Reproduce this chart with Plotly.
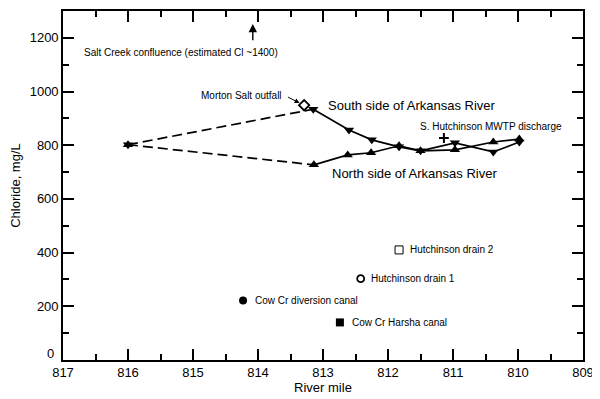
import plotly.graph_objects as go

# River mile / chloride data
south_mile = [816.0, 813.15, 812.6, 812.25, 811.83, 811.5, 810.97, 810.38, 809.98]
south_cl = [802, 934, 857, 820, 794, 779, 809, 775, 812]
north_mile = [816.0, 813.14, 812.62, 812.26, 811.83, 811.5, 810.97, 810.38, 809.98]
north_cl = [802, 727, 764, 772, 798, 779, 783, 812, 823]

morton_mile = [813.29]
morton_cl = [949]
mwtp_mile = [811.14]
mwtp_cl = [827]

drain2_mile = [811.83]
drain2_cl = [410]
drain1_mile = [812.42]
drain1_cl = [303]
diversion_mile = [814.23]
diversion_cl = [222]
harsha_mile = [812.74]
harsha_cl = [140]

salt_creek_mile = 814.08

y_ticks = [200, 400, 600, 800, 1000, 1200]

FONT = "Liberation Sans, Arial, sans-serif"

fig = go.Figure()

line_solid = dict(color="black", width=1.7)
line_dash = dict(color="black", width=1.7, dash="10px,5px")

# dashed links
fig.add_trace(go.Scatter(x=south_mile[:2], y=south_cl[:2], mode="lines", line=line_dash, showlegend=False))
fig.add_trace(go.Scatter(x=north_mile[:2], y=north_cl[:2], mode="lines", line=line_dash, showlegend=False))
# solid parts
fig.add_trace(go.Scatter(x=south_mile[1:], y=south_cl[1:], mode="lines", line=line_solid, showlegend=False))
fig.add_trace(go.Scatter(x=north_mile[1:], y=north_cl[1:], mode="lines", line=line_solid, showlegend=False))
# markers
fig.add_trace(go.Scatter(x=south_mile, y=south_cl, mode="markers",
                         marker=dict(symbol="triangle-down", size=9, color="black"), showlegend=False))
fig.add_trace(go.Scatter(x=north_mile, y=north_cl, mode="markers",
                         marker=dict(symbol="triangle-up", size=9, color="black"), showlegend=False))

fig.add_trace(go.Scatter(x=morton_mile, y=morton_cl, mode="markers",
                         marker=dict(symbol="diamond-open", size=8, color="black", line=dict(width=1.8)),
                         showlegend=False))
fig.add_trace(go.Scatter(x=mwtp_mile, y=mwtp_cl, mode="markers",
                         marker=dict(symbol="cross-thin", size=7, color="black", line=dict(width=2, color="black")),
                         showlegend=False))
fig.add_trace(go.Scatter(x=drain2_mile, y=drain2_cl, mode="markers",
                         marker=dict(symbol="square-open", size=8, color="black", line=dict(width=1)),
                         showlegend=False))
fig.add_trace(go.Scatter(x=drain1_mile, y=drain1_cl, mode="markers",
                         marker=dict(symbol="circle-open", size=7, color="black", line=dict(width=1.8)),
                         showlegend=False))
fig.add_trace(go.Scatter(x=diversion_mile, y=diversion_cl, mode="markers",
                         marker=dict(symbol="circle", size=8, color="black"), showlegend=False))
fig.add_trace(go.Scatter(x=harsha_mile, y=harsha_cl, mode="markers",
                         marker=dict(symbol="square", size=8, color="black"), showlegend=False))

ann = []
def label(x, y, text, size=10, xanchor="left"):
    ann.append(dict(x=x, y=y, xref="x", yref="y", text=text, showarrow=False,
                    xanchor=xanchor, yanchor="middle", font=dict(size=size, color="black", family=FONT)))

label(812.95, 949, "South side of Arkansas River", size=13)
label(812.89, 694, "North side of Arkansas River", size=13)
label(811.54, 871, "S. Hutchinson MWTP discharge")
label(811.70, 410, "Hutchinson drain 2")
label(812.30, 303, "Hutchinson drain 1")
label(814.08, 222, "Cow Cr diversion canal")
label(812.58, 140, "Cow Cr Harsha canal")
label(815.18, 1146, "Salt Creek confluence (estimated Cl ~1400)", xanchor="center")
label(813.60, 985, "Morton Salt outfall", xanchor="right")

# "0" y tick label, nudged up as in the reference
ann.append(dict(x=0, y=0, xref="paper", yref="y", text="0", showarrow=False, xanchor="right",
                yanchor="middle", xshift=-7, yshift=7, font=dict(size=13, color="black", family=FONT)))

# arrows
ann.append(dict(x=salt_creek_mile, y=1252, ax=salt_creek_mile, ay=1185, xref="x", yref="y",
                axref="x", ayref="y", text="", showarrow=True, arrowhead=2, arrowsize=1.2,
                arrowwidth=1.4, arrowcolor="black"))
ann.append(dict(x=813.36, y=957, ax=813.56, ay=982, xref="x", yref="y",
                axref="x", ayref="y", text="", showarrow=True, arrowhead=2, arrowsize=1,
                arrowwidth=1, arrowcolor="black"))

axis_common = dict(showgrid=False, zeroline=False, showline=True, linecolor="black", linewidth=1.6,
                   mirror="ticks", ticks="inside", ticklen=11, tickwidth=1.5, tickcolor="black",
                   tickfont=dict(size=13, color="black", family=FONT))

fig.update_layout(
    width=592, height=391,
    margin=dict(l=55, r=17, t=1, b=39),
    paper_bgcolor="white", plot_bgcolor="white",
    font=dict(family=FONT, color="black"),
    annotations=ann,
    xaxis=dict(range=[817, 809], dtick=1, tick0=809,
               minor=dict(dtick=0.5, ticklen=6, tickwidth=1.5, tickcolor="black", ticks="inside"),
               title=dict(text="River mile", font=dict(size=13, family=FONT, color="black"), standoff=2),
               **axis_common),
    yaxis=dict(range=[0, 1300], tickmode="array", tickvals=y_ticks,
               minor=dict(dtick=100, tick0=0, ticklen=6, tickwidth=1.5, tickcolor="black", ticks="inside"),
               title=dict(text="Chloride, mg/L", font=dict(size=13, family=FONT, color="black"), standoff=6),
               **axis_common),
)

fig.write_html("out.html")
